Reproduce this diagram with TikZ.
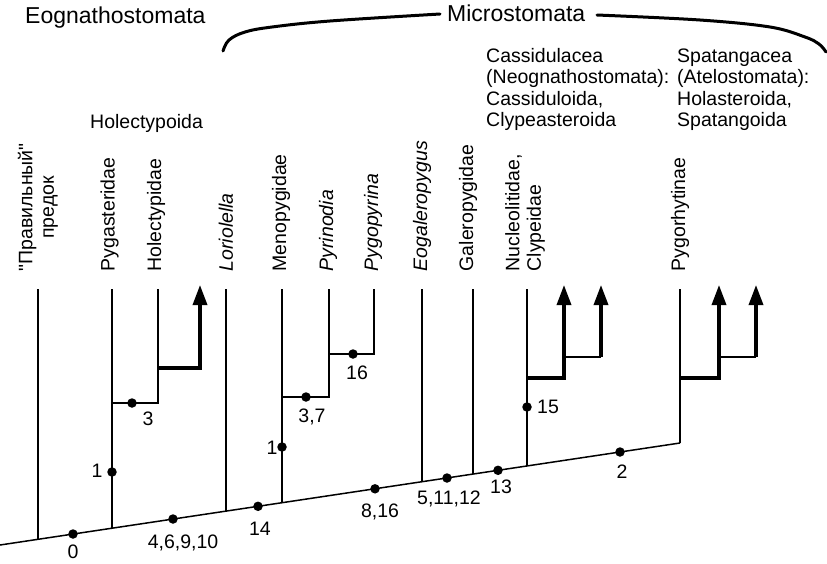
\documentclass[tikz,border=0pt]{standalone}
\usepackage{fontspec}
\setmainfont{Liberation Sans}
\usetikzlibrary{arrows.meta}
\newcommand\straightquote{\XeTeXglyph\XeTeXcharglyph"22\relax}
\begin{document}
\begin{tikzpicture}[x=1pt,y=-1pt,
  thinline/.style={line width=1.5pt,line cap=butt},
  thickline/.style={line width=3.4pt,line join=miter},
  midline/.style={line width=2.2pt},
  arr/.style={thickline,-{Triangle[width=14pt,length=20pt]}},
  dotnode/.style={circle,fill,inner sep=0pt,minimum size=9.5pt},
  lbl/.style={font=\fontsize{19.5}{21.5}\selectfont,inner sep=0pt},
  numlbl/.style={lbl,anchor=base},
  vlbl/.style={lbl,rotate=90,anchor=west},
  hlbl/.style={lbl,anchor=base west},
  titlelbl/.style={font=\fontsize{23}{27}\selectfont,inner sep=0pt,anchor=base west},
  brace/.style={line width=3pt,line cap=round}]
\useasboundingbox (0,0) rectangle (827,563);

% ---- titles ----
\node[titlelbl] (eogn) at (25,23) {Eognathostomata};
\node[titlelbl] (micro) at (447,21) {Microstomata};
\node[hlbl] (holoida) at (90,128) {Holectypoida};
\node[hlbl] (cas1) at (486,62) {Cassidulacea};
\node[hlbl] (cas2) at (486,83.5) {(Neognathostomata):};
\node[hlbl] (cas3) at (486,105) {Cassiduloida,};
\node[hlbl] (cas4) at (486,126.5) {Clypeasteroida};
\node[hlbl] (spa1) at (677,62) {Spatangacea};
\node[hlbl] (spa2) at (677,83.5) {(Atelostomata):};
\node[hlbl] (spa3) at (677,105) {Holasteroida,};
\node[hlbl] (spa4) at (677,126.5) {Spatangoida};

% ---- brace ----
\coordinate (bl) at (223,51);
\coordinate (bm1) at (440,14);
\coordinate (bm2) at (597,15);
\coordinate (br) at (826,52);
\draw[brace] plot[smooth,tension=0.6] coordinates {(bl) (229,40) (245,32) (272,27) (330,21) (bm1)};
\draw[brace] plot[smooth,tension=0.6] coordinates {(bm2) (700,20) (770,27) (805,37) (819,44) (br)};

% ---- vertical labels ----
\node[vlbl,align=center] (lanc) at (38,271.5) {\straightquote Правильный\straightquote\\предок};
\node[vlbl] (lpyg) at (109.5,271.5) {Pygasteridae};
\node[vlbl] (lhol) at (156,271.5) {Holectypidae};
\node[vlbl] (llor) at (226,271.5) {\itshape Loriolella};
\node[vlbl] (lmen) at (281,271.5) {Menopygidae};
\node[vlbl] (lpyr) at (328,271.5) {\itshape Pyrinodia};
\node[vlbl] (lpygo) at (373,271.5) {\itshape Pygopyrina};
\node[vlbl] (leog) at (422,271.5) {\itshape Eogaleropygus};
\node[vlbl] (lgal) at (468,271.5) {Galeropygidae};
\node[vlbl,align=left] (lnuc) at (525,271.5) {Nucleolitidae,\\Clypeidae};
\node[vlbl] (lpygor) at (680,271.5) {Pygorhytinae};

% ---- trunk ----
\coordinate (t0) at (0,545);
\coordinate (tend) at (680,443);
\draw[thinline] (t0) -- (tend);

% bases on trunk (y = 545 - 0.15 x)
\coordinate (banc) at (38,539.3);
\coordinate (bpyg) at (112,528.2);
\coordinate (blor) at (226,511.1);
\coordinate (bmen) at (282,502.7);
\coordinate (beog) at (422,481.7);
\coordinate (bgal) at (473,474.05);
\coordinate (bnuc) at (527,465.95);

% tops
\coordinate (tanc) at (38,289);
\coordinate (tpyg) at (112,289);
\coordinate (thol) at (158,289);
\coordinate (tlor) at (226,289);
\coordinate (tmen) at (282,289);
\coordinate (tpyr) at (329,289);
\coordinate (tpygo) at (374,289);
\coordinate (teog) at (422,289);
\coordinate (tgal) at (473,289);
\coordinate (tnuc) at (527,289);
\coordinate (tpygor) at (680,289);

\draw[thinline] (banc) -- (tanc);
\draw[thinline] (bpyg) -- (tpyg);
\draw[thinline] (blor) -- (tlor);
\draw[thinline] (bmen) -- (tmen);
\draw[thinline] (beog) -- (teog);
\draw[thinline] (bgal) -- (tgal);
\draw[thinline] (bnuc) -- (tnuc);
\draw[thinline] (tend) -- (tpygor);

% Holectypoida group
\coordinate (hj) at (112,403);
\coordinate (hk) at (158,403);
\draw[thinline] (hj) -- (hk) -- (thol);
\coordinate (hx) at (158,368);
\coordinate (hxa) at (200,368);
\coordinate (hxt) at (200,285);
\draw[arr] (hx) -- (hxa) -- (hxt);

% Menopygidae group
\coordinate (mj) at (282,397);
\coordinate (mk) at (329,397);
\draw[thinline] (mj) -- (mk) -- (tpyr);
\coordinate (pj) at (329,354);
\coordinate (pk) at (374,354);
\draw[thinline] (pj) -- (pk) -- (tpygo);

% Cassidulacea group
\coordinate (cj) at (527,378);
\coordinate (ck) at (564,378);
\coordinate (ckt) at (564,285);
\draw[arr] (cj) -- (ck) -- (ckt);
\coordinate (cm) at (564,357);
\coordinate (cn) at (601,357);
\coordinate (cnt) at (601,285);
\draw[midline] (cm) -- (cn);
\draw[arr] (cn) -- (cnt);

% Spatangacea group
\coordinate (sj) at (680,378);
\coordinate (sk) at (719,378);
\coordinate (skt) at (719,285);
\draw[arr] (sj) -- (sk) -- (skt);
\coordinate (sm) at (719,357);
\coordinate (sn) at (756,357);
\coordinate (snt) at (756,285);
\draw[midline] (sm) -- (sn);
\draw[arr] (sn) -- (snt);

% ---- dots ----
\node[dotnode] (d0) at (73,534) {};
\node[dotnode] (d4) at (173,519) {};
\node[dotnode] (d14) at (258,506.3) {};
\node[dotnode] (d8) at (375,488.8) {};
\node[dotnode] (d5) at (447,478) {};
\node[dotnode] (d13) at (498,470.3) {};
\node[dotnode] (d2) at (620,452) {};
\node[dotnode] (d1a) at (112,472) {};
\node[dotnode] (d3) at (132,403) {};
\node[dotnode] (d1b) at (282,447) {};
\node[dotnode] (d37) at (306,397) {};
\node[dotnode] (d16) at (353,354) {};
\node[dotnode] (d15) at (527,407) {};

% ---- dot labels ----
\node[numlbl] (n0) at (73,558) {0};
\node[numlbl] (n4) at (183,548) {4,6,9,10};
\node[numlbl] (n14) at (260,535) {14};
\node[numlbl] (n8) at (380,517) {8,16};
\node[numlbl] (n5) at (449,504) {5,11,12};
\node[numlbl] (n13) at (501,493) {13};
\node[numlbl] (n2) at (622,478) {2};
\node[numlbl] (n1a) at (97,477) {1};
\node[numlbl] (n3) at (148,425) {3};
\node[numlbl] (n1b) at (272,454) {1};
\node[numlbl] (n37) at (312,422) {3,7};
\node[numlbl] (n16) at (357,379) {16};
\node[numlbl] (n15) at (548,413) {15};
\end{tikzpicture}
\end{document}
